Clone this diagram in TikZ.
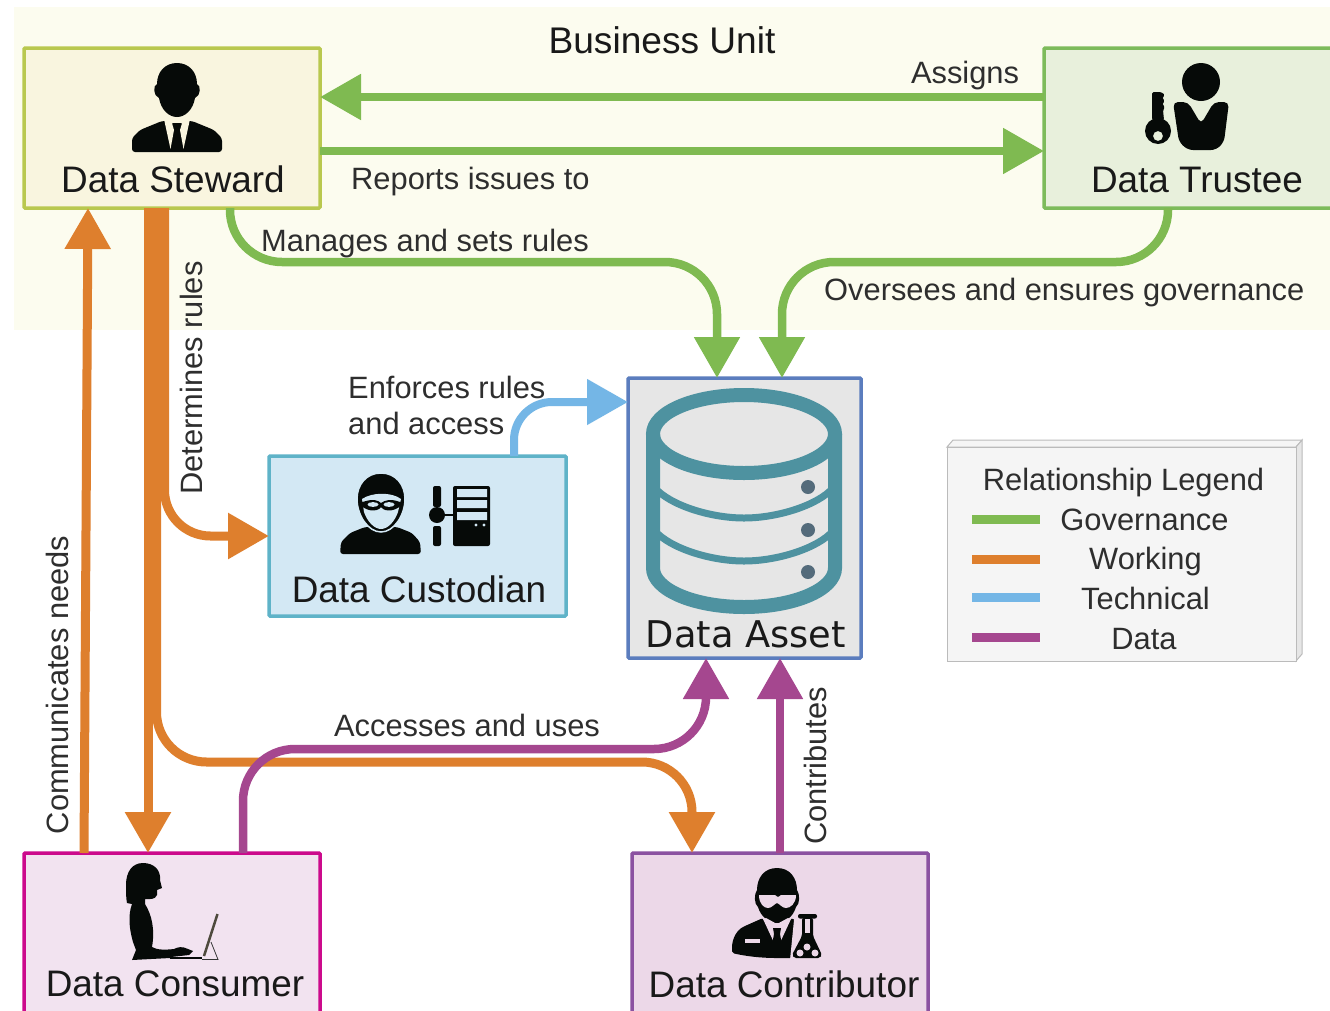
\documentclass[tikz,border=0pt]{standalone}
\usepackage{fontspec}
\setmainfont{Liberation Sans}
\newfontfamily\djv{DejaVu Sans}
\usetikzlibrary{arrows.meta}
\definecolor{gov}{HTML}{7FBA51}
\definecolor{wrk}{HTML}{DE7F2D}
\definecolor{tec}{HTML}{74B6E6}
\definecolor{dat}{HTML}{A5478F}
\definecolor{ink}{HTML}{060A08}
\definecolor{lab}{HTML}{2E2E2E}
\definecolor{cyl}{HTML}{4E92A0}
\definecolor{dots}{HTML}{546B7B}
\definecolor{stbg}{HTML}{F9F5DF}
\definecolor{trbg}{HTML}{E8F0DC}
\definecolor{cubg}{HTML}{D3E8F4}
\definecolor{cnbg}{HTML}{F2E3F0}
\definecolor{ctbg}{HTML}{ECD8E8}
\definecolor{dabg}{HTML}{E6E6E6}
\definecolor{stln}{HTML}{B9C84F}
\definecolor{trln}{HTML}{7DBB5B}
\definecolor{culn}{HTML}{5FB3C8}
\definecolor{daln}{HTML}{5B7DBE}
\definecolor{cnln}{HTML}{CC0A8C}
\definecolor{ctln}{HTML}{8B52A1}
\definecolor{band}{HTML}{FCFCEF}
\definecolor{legbg}{HTML}{F5F5F5}
\definecolor{legsd}{HTML}{E6E6E6}
\definecolor{legln}{HTML}{BBBBBB}
\tikzset{
  conn/.style={line width=8.5pt,rounded corners=52pt},
  govline/.style={conn,draw=gov,-{Triangle[length=41pt,width=44pt,fill=gov]}},
  wrkline/.style={conn,line width=9pt,draw=wrk,-{Triangle[length=41pt,width=44pt,fill=wrk]}},
  tecline/.style={conn,draw=tec,line width=8pt,rounded corners=38pt,-{Triangle[length=41pt,width=44pt,fill=tec]}},
  datline/.style={conn,draw=dat,-{Triangle[length=41pt,width=44pt,fill=dat]}},
  actor/.style={draw,line width=3.5pt,rounded corners=1pt,inner sep=0pt,outer sep=0pt},
  title/.style={anchor=base,font=\fontsize{36.9}{40}\selectfont,text=black!90,inner sep=0pt},
  lbl/.style={anchor=base,font=\fontsize{30.85}{36}\selectfont,text=lab,inner sep=0pt},
  lblw/.style={lbl,anchor=base west},
  lblv/.style={lbl,rotate=90},
  icon/.style={fill=ink,draw=none},
  legline/.style={line width=9pt},
}
\begin{document}
\begin{tikzpicture}[x=1pt,y=-1pt]
\clip (0,0) rectangle (1330,1010);
\fill[white] (0,0) rectangle (1330,1010);
\node[fill=band,inner sep=0pt,minimum width=1316pt,minimum height=323pt] (unit) at (672,168.5) {};
\node[lbl,font=\fontsize{37.1}{40}\selectfont,text=black!90] (unittext) at (662,53) {Business Unit};

% actor boxes
\node[actor,draw=stln,fill=stbg,minimum width=296pt,minimum height=160pt] (st) at (172,128) {};
\node[actor,draw=trln,fill=trbg,minimum width=320pt,minimum height=160pt] (tr) at (1204,128) {};
\node[actor,draw=culn,fill=cubg,minimum width=297pt,minimum height=160pt] (cu) at (417.5,536) {};
\node[actor,draw=daln,fill=dabg,minimum width=233pt,minimum height=280pt] (da) at (744.5,518) {};
\node[actor,draw=cnln,fill=cnbg,minimum width=296pt,minimum height=190pt] (cn) at (172,948) {};
\node[actor,draw=ctln,fill=ctbg,minimum width=296pt,minimum height=190pt] (ct) at (780,948) {};

% connectors
\draw[govline,rounded corners=0pt] ([yshift=-49pt]tr.north west) -- ([yshift=-49pt]st.north east);
\draw[govline,rounded corners=0pt] ([yshift=-103pt]st.north east) -- ([yshift=-103pt]tr.north west);
\draw[govline] ([xshift=206pt]st.south west) -- ++(0,54) -| ([xshift=89pt]da.north west);
\draw[govline] ([xshift=124pt]tr.south west) -- ++(0,54) -| ([xshift=154pt]da.north west);
\draw[wrkline,rounded corners=0pt] ([xshift=60pt]cn.north west) -- ([xshift=64pt]st.south west);
\draw[wrkline,rounded corners=0pt] ([xshift=124pt]st.south west) -- ([xshift=124pt]cn.north west);
\draw[wrkline,rounded corners=50pt] ([xshift=132.5pt]st.south west) -- ++(0,554) -| ([xshift=60pt]ct.north west);
\draw[wrkline,rounded corners=46pt] ([xshift=140.5pt]st.south west) |- (cu.west);
\draw[datline] ([xshift=219pt]cn.north west) -- ++(0,-104) -| ([xshift=78pt]da.south west);
\draw[datline,rounded corners=0pt] ([xshift=148pt]ct.north west) -- ([xshift=152pt]da.south west);
\draw[tecline] ([xshift=245pt]cu.north west) |- ([yshift=-24pt]da.north west);

% labels
\node[lbl] (assigns) at (965,83) {Assigns};
\node[lblw] (reports) at (351,189) {Reports issues to};
\node[lblw] (manages) at (261,251) {Manages and sets rules};
\node[lblw] (oversees) at (824,300) {Oversees and ensures governance};
\node[lblv] (determ) at (202,378) {Determines rules};
\node[lblw] (enf1) at (348,398.5) {Enforces rules};
\node[lblw] (enf2) at (348,434) {and access};
\node[lblv] (comm) at (68.5,685) {Communicates needs};
\node[lbl] (acc) at (467,736) {Accesses and uses};
\node[lblv] (contr) at (826.5,766) {Contributes};

% titles
\node[title] (sttext) at (173,192) {Data Steward};
\node[title] (trtext) at (1197,192) {Data Trustee};
\node[title] (cutext) at (419,602) {Data Custodian};
\node[title] (cntext) at (175,996) {Data Consumer};
\node[title] (cttext) at (784,997) {Data Contributor};
\node[title,font=\djv\fontsize{36.8}{40}\selectfont] (datext) at (746,647) {Data Asset};

% steward icon
\fill[icon] (177,63) .. controls (165,63) and (157,72) .. (157,84) .. controls (153,85) and (153,96) .. (159,98) .. controls (161,110) and (169,117) .. (177,117) .. controls (185,117) and (193,110) .. (195,98) .. controls (201,96) and (201,85) .. (197,84) .. controls (197,72) and (189,63) .. (177,63) -- cycle;
\fill[icon,rounded corners=3pt] (132,152) -- (132,138) -- (140,130) -- (162,121) -- (192,121) -- (214,130) -- (222,138) -- (222,152) -- cycle;
\fill[stbg] (164,119) -- (172,119) -- (172.5,125) -- (174,130) -- (170.5,149) -- cycle;
\fill[stbg] (190,119) -- (182,119) -- (181.5,125) -- (180,130) -- (183.5,149) -- cycle;
\fill[stbg] (172,119) rectangle (182,123);

% trustee icon
\fill[icon] (1201,82) circle[radius=19];
\fill[icon,rounded corners=5pt] (1173,102) -- (1188,102) -- (1201,124) -- (1214,102) -- (1229,102) -- (1224,142) -- (1216,150) -- (1188,150) -- (1179,142) -- cycle;
\fill[icon,even odd rule] (1158,131) circle[radius=13] (1158,136) circle[radius=5];
\fill[icon,rounded corners=1.5pt] (1152,92) -- (1161,92) -- (1165,95) -- (1162,98) -- (1165,101) -- (1162,104) -- (1165,107) -- (1163,110) -- (1164,120) -- (1152,120) -- cycle;

% custodian icon
\fill[icon,rounded corners=3pt] (340,554) -- (341,542) -- (350,533) -- (365,527) -- (397,527) -- (412,533) -- (420,542) -- (421,554) -- cycle;
\filldraw[fill=ink,draw=cubg,line width=1.5pt] (381,473) .. controls (366,473) and (357,485) .. (357,499) .. controls (357,515) and (368,532) .. (381,532) .. controls (394,532) and (405,515) .. (405,499) .. controls (405,485) and (396,473) .. (381,473) -- cycle;
\fill[cubg] (362,499) .. controls (372,492) and (392,492) .. (401,499) -- (398,512) .. controls (395,521) and (388,529) .. (381,529) .. controls (374,529) and (367,521) .. (364,512) -- cycle;
\fill[icon] (359,503) -- (366,501) .. controls (372,499) and (378,500) .. (381,503) .. controls (385,500) and (391,499) .. (397,501) -- (403,503) .. controls (398,511) and (385,513) .. (381,507) .. controls (377,513) and (364,511) .. (359,503) -- cycle;
\fill[cubg] (373,504.5) ellipse[x radius=5.5,y radius=2.4] (389,504.5) ellipse[x radius=5.5,y radius=2.4];
\fill[icon,rounded corners=2pt] (453,486) rectangle (490,546);
\fill[cubg] (457,489) rectangle (487,497) (457,500) rectangle (487,508) (457,512) rectangle (487,520);
\fill[cubg] (476,525) circle[radius=1.7] (484,525) circle[radius=1.7];
\fill[icon,rounded corners=2pt] (433,486) rectangle (441,507);
\fill[icon,rounded corners=2pt] (433,526) rectangle (441,546);
\fill[icon] (437,515) circle[radius=8];
\fill[icon] (437,514) rectangle (454,516);

% consumer icon
\fill[icon] (143,863) .. controls (132,863) and (126,872) .. (126,885) .. controls (126,892) and (126,898) .. (127,903) -- (132,904) .. controls (128,915) and (129,928) .. (133,942) -- (136,950) -- (132,960) -- (170,958) -- (171,957) -- (189,955) -- (193,951) -- (188,949) .. controls (182,946) and (178,947) .. (174,949) .. controls (165,950) and (157,950) .. (152,947) .. controls (155,930) and (152,915) .. (145,904) -- (145,899) .. controls (150,899) and (155,900) .. (157,895) -- (157,890) -- (162,888) -- (160,880) .. controls (161,870) and (154,863) .. (143,863) -- cycle;
\fill[icon] (170,956.5) rectangle (202,959);
\draw[black!80!yellow,line width=2.5pt] (204,956) -- (217.5,914);
\draw[black!80,line width=0.8pt] (202,959.5) -- (218,959.5) -- (211,942);

% contributor icon
\fill[icon] (777,868) .. controls (764,868) and (757,878) .. (757,890) .. controls (754,894) and (754,904) .. (758,907) .. controls (761,917) and (769,923) .. (777,923) .. controls (785,923) and (793,917) .. (796,907) .. controls (800,904) and (800,894) .. (797,890) .. controls (797,878) and (790,868) .. (777,868) -- cycle;
\fill[ctbg] (759,895) -- (775,895) .. controls (777,896) and (777,897) .. (778,897) .. controls (779,897) and (779,896) .. (781,895) -- (796,895) .. controls (796,904) and (790,908) .. (786,908) .. controls (782,908) and (780,904) .. (777,903) .. controls (774,904) and (772,908) .. (768,908) .. controls (764,908) and (759,904) .. (759,895) -- cycle;
\fill[icon,rounded corners=2pt] (732,950) .. controls (732,938) and (737,930) .. (745,926) -- (763,918) -- (777,948) -- (791,918) -- (797,921) -- (797,958) -- (778,958) .. controls (760,958) and (745,956) .. (732,953) -- cycle;
\fill[ctbg] (763,919) -- (777,949) -- (791,919) -- (788,918) -- (777,924) -- (766,918) -- cycle;
\fill[icon] (773,928) -- (781,928) -- (780,934) -- (782,945) -- (777,951) -- (772,945) -- (774,934) -- cycle;
\fill[ctbg] (745,939) rectangle (760,942.5);
\fill[ctbg] (795,910) -- (824,910) -- (824,960) -- (790,960) -- cycle;
\fill[icon,rounded corners=2pt] (798,914) rectangle (817,918.5);
\fill[icon,rounded corners=2pt] (802,918) -- (813,918) -- (813,936) -- (822,955) -- (820,958) -- (794,958) -- (792,955) -- (802,936) -- cycle;
\fill[ctbg] (805,918.5) rectangle (810,933);
\fill[ctbg] (807,947) circle[radius=3.5] (800,953) circle[radius=3.5] (815,953) circle[radius=3.5];

% database icon
\draw[cyl,line width=14pt] (744,434) ellipse[x radius=91,y radius=39];
\draw[cyl,line width=14pt] (653,434) -- (653,568) arc[start angle=180,end angle=0,x radius=91,y radius=39] -- (835,434);
\draw[cyl,line width=7pt] (655,488) .. controls (670,505) and (710,518) .. (744,518) .. controls (778,518) and (818,505) .. (833,488);
\draw[cyl,line width=7pt] (655,531) .. controls (670,548) and (710,561) .. (744,561) .. controls (778,561) and (818,548) .. (833,531);
\fill[dots] (808,487) circle[radius=7] (808,530) circle[radius=7] (808,572) circle[radius=7];

% legend
\draw[legln,line width=1pt,fill=legbg] (947,447) -- (953,440) -- (1302,440) -- (1296,447) -- cycle;
\draw[legln,line width=1pt,fill=legsd] (1296,447) -- (1302,440) -- (1302,654) -- (1296,661) -- cycle;
\node[draw=legln,line width=1pt,fill=legbg,minimum width=349pt,minimum height=214pt,inner sep=0pt] (legend) at (1121.5,554) {};
\node[lbl] (legt) at (1123.5,490) {Relationship Legend};
\node[lbl] (lg1) at (1144.5,530) {Governance};
\node[lbl] (lg2) at (1145.5,569) {Working};
\node[lbl] (lg3) at (1145.5,609) {Technical};
\node[lbl] (lg4) at (1144,649) {Data};
\draw[legline,draw=gov] (972,519) -- (1040,519);
\draw[legline,draw=wrk] (972,559) -- (1040,559);
\draw[legline,draw=tec] (972,597) -- (1040,597);
\draw[legline,draw=dat] (972,637) -- (1040,637);
\end{tikzpicture}
\end{document}
